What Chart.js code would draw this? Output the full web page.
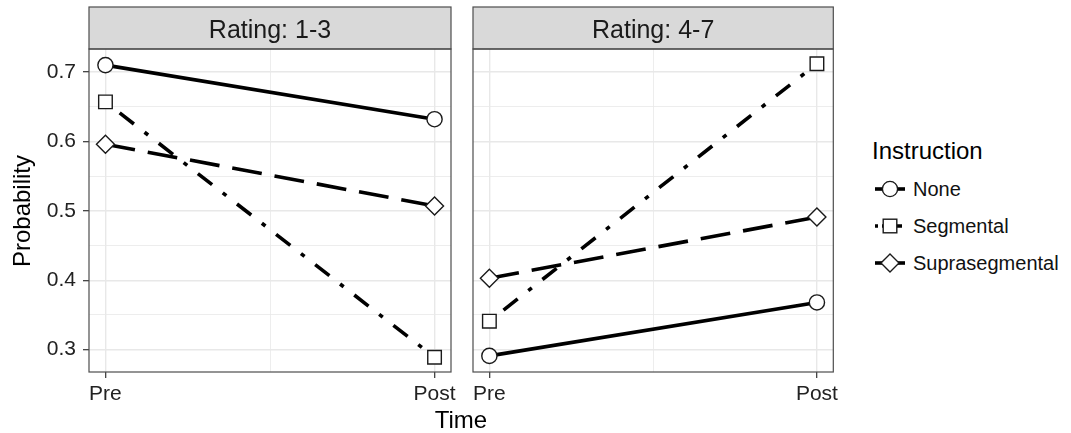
<!DOCTYPE html>
<html>
<head>
<meta charset="utf-8">
<script src="https://cdn.jsdelivr.net/npm/chart.js@4"></script>
<style>
  body { margin:0; background:#fff; font-family:"Liberation Sans", Arial, sans-serif; }
  #wrap { position:relative; width:1071px; height:433px; overflow:hidden; }
  canvas { position:absolute; top:0; }
  .txt { position:absolute; color:#000; white-space:nowrap; }
  .row { position:absolute; left:872px; height:20px; display:flex; align-items:center; font-size:20px; line-height:20px; color:#111; }
  .row svg { margin-right:3px; }
</style>
</head>
<body>
<div id="wrap">
  <canvas id="c1" width="462" height="433" style="left:0"></canvas>
  <canvas id="c2" width="384" height="433" style="left:462px"></canvas>
  <div class="txt" style="left:-78px;top:199px;width:200px;height:24px;line-height:24px;font-size:24px;text-align:center;transform:rotate(-90deg)">Probability</div>
  <div class="txt" style="left:411px;top:408px;width:100px;line-height:24px;font-size:24px;text-align:center">Time</div>
  <div class="txt" style="left:872px;top:139px;line-height:24px;font-size:24px">Instruction</div>
  <div id="legend"></div>
</div>
<script>
// data
const timeLabels = ['Pre', 'Post'];
const panelTitles = ['Rating: 1-3', 'Rating: 4-7'];
const seriesNames = ['None', 'Segmental', 'Suprasegmental'];

const lowNone = [0.710, 0.632];
const lowSegmental = [0.657, 0.289];
const lowSupra = [0.596, 0.507];

const highNone = [0.291, 0.368];
const highSegmental = [0.341, 0.712];
const highSupra = [0.403, 0.491];

const yTicks = [0.3, 0.35, 0.4, 0.45, 0.5, 0.55, 0.6, 0.65, 0.7];
const xTicks = [1, 1.5, 2];
const yMin = 0.2678, yMax = 0.7332;
const xMin = 0.95, xMax = 2.05;

// styles
const dashes = [[], [4.5, 13.5, 18, 13.5], [30, 13]];
const markers = ['circle', 'rect', 'rectRot'];
const markerSize = [7.6, 9.6, 9];
const FONT = '"Liberation Sans", Arial, sans-serif';

Chart.defaults.font.family = FONT;

const isMajor = v => Math.abs(v * 10 - Math.round(v * 10)) < 1e-6;
const isMajorX = v => Number.isInteger(v);

const panelPlugin = {
  id: 'panel',
  afterDraw(chart, args, opts) {
    const { ctx, chartArea: a } = chart;
    ctx.save();
    ctx.fillStyle = '#d9d9d9';
    ctx.fillRect(a.left, a.top - 42, a.right - a.left, 42);
    ctx.strokeStyle = '#4d4d4d';
    ctx.lineWidth = 1.2;
    ctx.strokeRect(a.left, a.top - 42, a.right - a.left, 42);
    ctx.strokeRect(a.left, a.top, a.right - a.left, a.bottom - a.top);
    ctx.fillStyle = '#1a1a1a';
    ctx.font = '25px ' + FONT;
    ctx.textAlign = 'center';
    ctx.textBaseline = 'alphabetic';
    ctx.fillText(opts.title, (a.left + a.right) / 2, a.top - 11);
    ctx.restore();
  }
};

function makeDatasets(series) {
  return series.map((vals, i) => ({
    label: seriesNames[i],
    data: vals.map((v, j) => ({ x: j + 1, y: v })),
    borderColor: '#000',
    borderWidth: 3.6,
    borderDash: dashes[i],
    borderCapStyle: 'butt',
    pointStyle: markers[i],
    pointRadius: markerSize[i],
    pointBackgroundColor: '#fff',
    pointBorderColor: '#1a1a1a',
    pointBorderWidth: 1.4,
    clip: false
  }));
}

function makeChart(id, series, title, showY, pad) {
  return new Chart(document.getElementById(id), {
    type: 'line',
    data: { datasets: makeDatasets(series) },
    options: {
      responsive: false,
      animation: false,
      layout: { padding: pad },
      plugins: { legend: { display: false }, tooltip: { enabled: false }, panel: { title } },
      scales: {
        x: {
          type: 'linear', min: xMin, max: xMax,
          afterBuildTicks: s => { s.ticks = xTicks.map(v => ({ value: v })); },
          afterFit: s => { s.height = 61; },
          border: { display: false },
          grid: {
            color: '#e8e8e8',
            lineWidth: c => isMajorX(c.tick.value) ? 1.4 : 0.8,
            tickColor: c => isMajorX(c.tick.value) ? '#333' : 'rgba(0,0,0,0)',
            tickWidth: 1.2,
            tickLength: 6
          },
          ticks: {
            autoSkip: false, maxRotation: 0, padding: 4,
            color: '#222', font: { size: 21 },
            callback: v => isMajorX(v) ? timeLabels[v - 1] : ''
          }
        },
        y: {
          type: 'linear', min: yMin, max: yMax,
          afterBuildTicks: s => { s.ticks = yTicks.map(v => ({ value: v })); },
          afterFit: s => { s.width = showY ? 89 : 0; },
          border: { display: false },
          grid: {
            color: '#e8e8e8',
            lineWidth: c => isMajor(c.tick.value) ? 1.4 : 0.8,
            tickColor: c => isMajor(c.tick.value) ? '#333' : 'rgba(0,0,0,0)',
            tickWidth: 1.2,
            tickLength: 6,
            drawTicks: showY
          },
          ticks: {
            display: showY, autoSkip: false, padding: 7,
            color: '#222', font: { size: 21 },
            callback: v => isMajor(v) ? v.toFixed(1) : ''
          }
        }
      }
    },
    plugins: [panelPlugin]
  });
}

makeChart('c1', [lowNone, lowSegmental, lowSupra], panelTitles[0], true,
  { top: 49, right: 7, bottom: 0, left: 0 });
makeChart('c2', [highNone, highSegmental, highSupra], panelTitles[1], false,
  { top: 49, right: 12.7, bottom: 0, left: 6.3 });

// legend keys
const keyShape = [
  '<circle cx="18" cy="10" r="7.6" fill="#fff" stroke="#1a1a1a" stroke-width="1.4"/>',
  '<rect x="11.2" y="3.2" width="13.6" height="13.6" fill="#fff" stroke="#1a1a1a" stroke-width="1.4"/>',
  '<polygon points="9,10 18,1 27,10 18,19" fill="#fff" stroke="#1a1a1a" stroke-width="1.4"/>'
];
const legendTops = [179, 216, 253];
document.getElementById('legend').innerHTML = seriesNames.map((n, i) => `
  <div class="row" style="top:${legendTops[i]}px">
    <svg width="38" height="20"><line x1="3" y1="10" x2="33" y2="10" stroke="#000" stroke-width="3.6"
      ${dashes[i].length ? `stroke-dasharray="${i === 1 ? '3,4,20,3' : '30,13'}"` : ''}/>${keyShape[i]}</svg>
    <span>${n}</span>
  </div>`).join('');
</script>
</body>
</html>
